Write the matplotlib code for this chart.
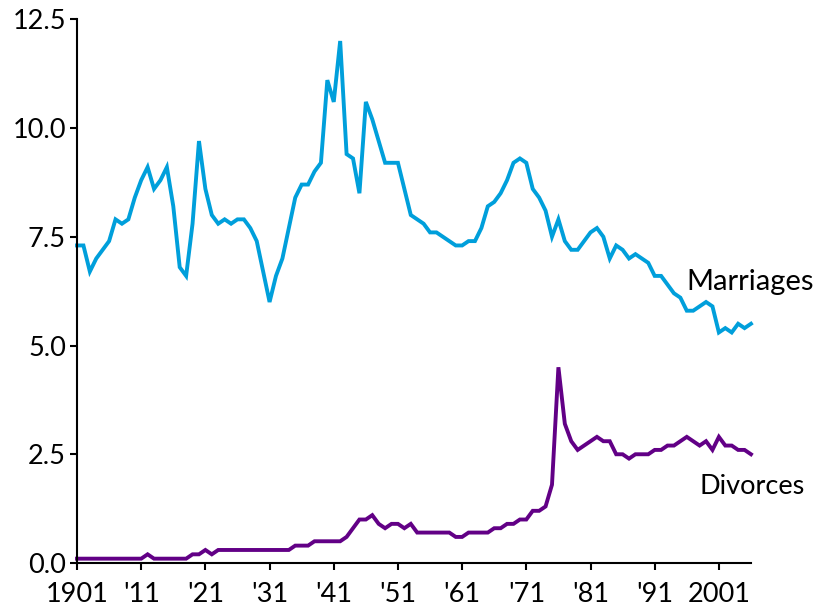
import numpy as np
import matplotlib
matplotlib.use("Agg")
import matplotlib.pyplot as plt

plt.rcParams['font.family'] = ['Lato', 'DejaVu Sans']

years = np.arange(1901, 2007)

marriages = [
    7.3, 7.3, 6.7, 7.0, 7.2, 7.4, 7.9, 7.8, 7.9, 8.4,   # 1901-1910
    8.8, 9.1, 8.6, 8.8, 9.1, 8.2, 6.8, 6.6, 7.8, 9.7,   # 1911-1920
    8.6, 8.0, 7.8, 7.9, 7.8, 7.9, 7.9, 7.7, 7.4, 6.7,   # 1921-1930
    6.0, 6.6, 7.0, 7.7, 8.4, 8.7, 8.7, 9.0, 9.2, 11.1,  # 1931-1940
    10.6, 12.0, 9.4, 9.3, 8.5, 10.6, 10.2, 9.7, 9.2, 9.2,  # 1941-1950
    9.2, 8.6, 8.0, 7.9, 7.8, 7.6, 7.6, 7.5, 7.4, 7.3,   # 1951-1960
    7.3, 7.4, 7.4, 7.7, 8.2, 8.3, 8.5, 8.8, 9.2, 9.3,   # 1961-1970
    9.2, 8.6, 8.4, 8.1, 7.5, 7.9, 7.4, 7.2, 7.2, 7.4,   # 1971-1980
    7.6, 7.7, 7.5, 7.0, 7.3, 7.2, 7.0, 7.1, 7.0, 6.9,   # 1981-1990
    6.6, 6.6, 6.4, 6.2, 6.1, 5.8, 5.8, 5.9, 6.0, 5.9,   # 1991-2000
    5.3, 5.4, 5.3, 5.5, 5.4, 5.5,                       # 2001-2006
]

divorces = [
    0.1, 0.1, 0.1, 0.1, 0.1, 0.1, 0.1, 0.1, 0.1, 0.1,   # 1901-1910
    0.1, 0.2, 0.1, 0.1, 0.1, 0.1, 0.1, 0.1, 0.2, 0.2,   # 1911-1920
    0.3, 0.2, 0.3, 0.3, 0.3, 0.3, 0.3, 0.3, 0.3, 0.3,   # 1921-1930
    0.3, 0.3, 0.3, 0.3, 0.4, 0.4, 0.4, 0.5, 0.5, 0.5,   # 1931-1940
    0.5, 0.5, 0.6, 0.8, 1.0, 1.0, 1.1, 0.9, 0.8, 0.9,   # 1941-1950
    0.9, 0.8, 0.9, 0.7, 0.7, 0.7, 0.7, 0.7, 0.7, 0.6,   # 1951-1960
    0.6, 0.7, 0.7, 0.7, 0.7, 0.8, 0.8, 0.9, 0.9, 1.0,   # 1961-1970
    1.0, 1.2, 1.2, 1.3, 1.8, 4.5, 3.2, 2.8, 2.6, 2.7,   # 1971-1980
    2.8, 2.9, 2.8, 2.8, 2.5, 2.5, 2.4, 2.5, 2.5, 2.5,   # 1981-1990
    2.6, 2.6, 2.7, 2.7, 2.8, 2.9, 2.8, 2.7, 2.8, 2.6,   # 1991-2000
    2.9, 2.7, 2.7, 2.6, 2.6, 2.5,                       # 2001-2006
]

tick_years = [1901, 1911, 1921, 1931, 1941, 1951, 1961, 1971, 1981, 1991, 2001]
tick_labels = ['1901', "'11", "'21", "'31", "'41", "'51", "'61", "'71", "'81", "'91", '2001']
y_ticks = [0.0, 2.5, 5.0, 7.5, 10.0, 12.5]

blue = '#009fdb'
purple = '#620086'

fig = plt.figure(figsize=(8.21, 6.09), dpi=100)
ax = fig.add_axes([0.0938, 0.0755, 0.8209, 0.8929])

ax.plot(years, marriages, color=blue, lw=2.8, solid_joinstyle='miter', clip_on=False)
ax.plot(years, divorces, color=purple, lw=2.8, solid_joinstyle='miter', clip_on=False)

ax.set_xlim(1901, 2006)
ax.set_ylim(0, 12.5)
ax.set_xticks(tick_years)
ax.set_xticklabels(tick_labels)
ax.set_yticks(y_ticks)
ax.set_yticklabels([f'{v:.1f}' for v in y_ticks])

for s in ['top', 'right']:
    ax.spines[s].set_visible(False)
for s in ['left', 'bottom']:
    ax.spines[s].set_linewidth(1.5)
ax.tick_params(axis='both', direction='out', length=5, width=1.5, labelsize=19.5)
ax.tick_params(axis='x', pad=9)
ax.tick_params(axis='y', pad=3)

ax.text(1996.0, 6.46, 'Marriages', fontsize=21, va='center', ha='left')
ax.text(1998.0, 1.77, 'Divorces', fontsize=19.5, va='center', ha='left')

fig.savefig('out.png', dpi=100)
